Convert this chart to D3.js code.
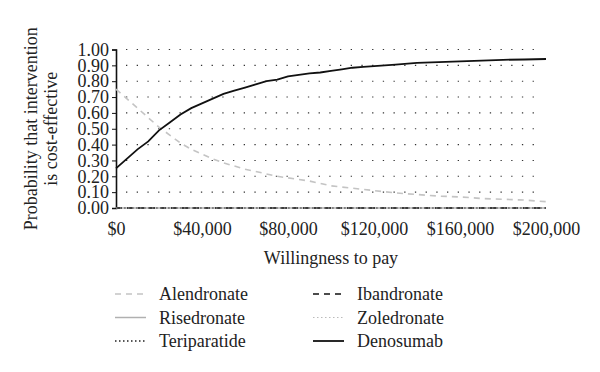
<!DOCTYPE html>
<html>
<head>
<meta charset="utf-8">
<script src="https://d3js.org/d3.v7.min.js"></script>
<style>
    body { margin: 0; background: #fff; }
    text { font-family: "Liberation Serif", "DejaVu Serif", serif; fill: #222; }
</style>
</head>
<body>
<div id="ceac-chart"></div>
<script>

//************************  data *************************

var wtp = [0, 5000, 10000, 15000, 20000, 25000, 30000, 35000, 40000, 45000, 50000,
    55000, 60000, 65000, 70000, 75000, 80000, 85000, 90000, 95000, 100000,
    105000, 110000, 115000, 120000, 130000, 140000, 150000, 160000, 170000,
    180000, 190000, 200000];

var alendronate = [0.75, 0.69, 0.63, 0.57, 0.51, 0.46, 0.41, 0.37, 0.34, 0.31, 0.285,
    0.265, 0.245, 0.23, 0.215, 0.20, 0.19, 0.18, 0.17, 0.155, 0.14,
    0.132, 0.125, 0.117, 0.11, 0.095, 0.085, 0.075, 0.07, 0.06,
    0.055, 0.05, 0.04];

var denosumab = [0.25, 0.31, 0.37, 0.42, 0.49, 0.54, 0.59, 0.63, 0.66, 0.69, 0.72,
    0.74, 0.76, 0.78, 0.80, 0.81, 0.83, 0.84, 0.85, 0.855, 0.865,
    0.875, 0.885, 0.89, 0.895, 0.905, 0.915, 0.92, 0.925, 0.93,
    0.935, 0.937, 0.94];

// the other four never come out cost-effective
var zeros = wtp.map(function(){ return 0; });
var risedronate = zeros, teriparatide = zeros, ibandronate = zeros, zoledronate = zeros;

var yTicks = [0, 0.1, 0.2, 0.3, 0.4, 0.5, 0.6, 0.7, 0.8, 0.9, 1.0];
var xTicks = [0, 40000, 80000, 120000, 160000, 200000];

var series = [
    {name: "Alendronate", values: alendronate, color: "#c4c4c4", dash: "6,5", width: 1.6},
    {name: "Risedronate", values: risedronate, color: "#b0b0b0", dash: null, width: 1.5},
    {name: "Teriparatide", values: teriparatide, color: "#222", dash: "1.5,2.5", width: 1.3},
    {name: "Ibandronate", values: ibandronate, color: "#111", dash: "6,5", width: 1.7},
    {name: "Zoledronate", values: zoledronate, color: "#bbb", dash: "1.5,2.5", width: 1.2},
    {name: "Denosumab", values: denosumab, color: "#111", dash: null, width: 1.8}
];

// legend order: two columns
var legendLeft = ["Alendronate", "Risedronate", "Teriparatide"];
var legendRight = ["Ibandronate", "Zoledronate", "Denosumab"];


//************************  chart *************************

var margin = {top: 49.5, right: 54, bottom: 164, left: 116};
var width = 600 - margin.left - margin.right;
var height = 372 - margin.top - margin.bottom;

var svg = d3.select("#ceac-chart").append("svg")
    .attr("width", 600)
    .attr("height", 372);

var g = svg.append("g")
    .attr("transform", "translate(" + margin.left + "," + margin.top + ")");

var x = d3.scaleLinear()
    .domain([0, 200000])
    .range([0, width]);

var y = d3.scaleLinear()
    .domain([0, 1])
    .range([height, 0]);

//dotted grid
g.selectAll(".grid")
    .data(yTicks.slice(1))
    .enter().append("line")
    .attr("class", "grid")
    .attr("x1", 0)
    .attr("x2", x(197000))
    .attr("y1", function(d){ return y(d); })
    .attr("y2", function(d){ return y(d); })
    .attr("stroke", "#333")
    .attr("stroke-width", 1.1)
    .attr("stroke-dasharray", "1.3,9.4")
    .attr("stroke-dashoffset", -10);

//axes
var yAxis = d3.axisLeft(y)
    .tickValues(yTicks)
    .tickFormat(d3.format(".2f"))
    .tickSize(4)
    .tickPadding(3);

var yg = g.append("g").attr("class", "y-axis").call(yAxis);
yg.select(".domain").attr("stroke", "#111").attr("stroke-width", 1.6);
yg.selectAll(".tick line").attr("stroke", "#111");
yg.selectAll("text").style("font-size", "18px").attr("fill", "#222");

var xAxis = d3.axisBottom(x)
    .tickValues(xTicks)
    .tickFormat(function(d){ return "$" + d3.format(",")(d); })
    .tickSize(0)
    .tickPadding(14);

var xg = g.append("g").attr("class", "x-axis")
    .attr("transform", "translate(0," + height + ")")
    .call(xAxis);
xg.select(".domain").remove();
xg.selectAll("text").style("font-size", "18px").attr("fill", "#222");

//lines
var line = d3.line()
    .x(function(d, i){ return x(wtp[i]); })
    .y(function(d){ return y(d); });

g.selectAll(".series")
    .data(series)
    .enter().append("path")
    .attr("class", "series")
    .attr("d", function(d){ return line(d.values); })
    .attr("fill", "none")
    .attr("stroke", function(d){ return d.color; })
    .attr("stroke-width", function(d){ return d.width; })
    .attr("stroke-dasharray", function(d){ return d.dash; });

//axis titles
svg.append("text")
    .attr("x", margin.left + width / 2)
    .attr("y", 264)
    .attr("text-anchor", "middle")
    .style("font-size", "18px")
    .text("Willingness to pay");

var yTitle = svg.append("text")
    .attr("transform", "translate(37," + (margin.top + height / 2) + ") rotate(-90)")
    .attr("text-anchor", "middle")
    .style("font-size", "18px");
yTitle.append("tspan").attr("x", 0).attr("dy", 0).text("Probability that intervention");
yTitle.append("tspan").attr("x", 0).attr("dy", 20).text("is cost-effective");

//legend
var byName = {};
series.forEach(function(s){ byName[s.name] = s; });

function drawLegend(names, x0, textX) {
    names.forEach(function(name, i){
        var s = byName[name];
        var cy = 294 + i * 23.5;
        svg.append("line")
            .attr("x1", x0)
            .attr("x2", x0 + 31)
            .attr("y1", cy)
            .attr("y2", cy)
            .attr("stroke", s.color)
            .attr("stroke-width", s.width)
            .attr("stroke-dasharray", s.dash);
        svg.append("text")
            .attr("x", textX)
            .attr("y", cy + 6)
            .style("font-size", "18px")
            .text(name);
    });
}

drawLegend(legendLeft, 115, 159);
drawLegend(legendRight, 313, 357);

</script>
</body>
</html>
